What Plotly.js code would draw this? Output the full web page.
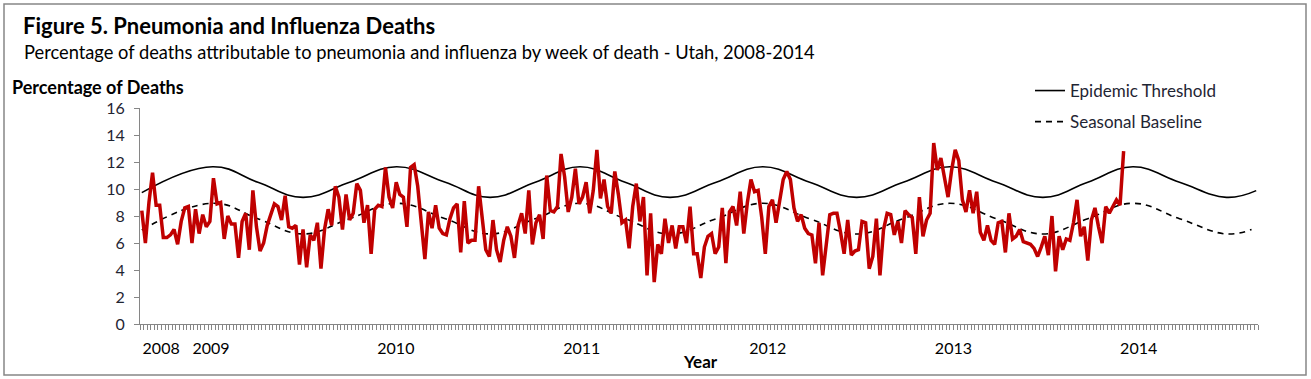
<!DOCTYPE html>
<html><head><meta charset="utf-8">
<script src="https://cdn.plot.ly/plotly-3.0.1.min.js"></script>
<style>html,body{margin:0;padding:0;background:#fff}#chart{width:1311px;height:379px}</style>
</head><body><div id="chart"></div>
<script>
// Weekly percentage of deaths due to pneumonia & influenza (week index from start of series)
const pniPercent = [
  8.4, 6.0, 9.0, 11.2, 8.8, 8.8, 6.4, 6.4, 6.6, 7.0,
  5.9, 7.6, 8.6, 8.7, 6.0, 8.5, 6.7, 8.1, 7.2, 7.6,
  10.8, 8.9, 9.0, 6.3, 8.0, 7.4, 7.4, 4.9, 7.6, 8.2,
  5.5, 9.9, 7.2, 5.4, 6.0, 7.3, 8.1, 8.9, 8.7, 7.7,
  9.5, 7.2, 7.1, 7.3, 4.4, 7.0, 4.2, 6.6, 6.2, 7.5,
  4.1, 7.0, 8.5, 7.3, 10.2, 9.4, 7.0, 9.6, 7.7, 8.2,
  10.4, 9.9, 7.5, 8.8, 5.2, 8.5, 8.8, 8.7, 11.6, 9.4,
  8.6, 10.5, 9.6, 9.4, 7.2, 11.6, 11.8, 10.2, 7.5, 4.8,
  8.3, 7.1, 8.8, 7.1, 6.7, 6.6, 7.8, 8.6, 8.9, 5.3,
  9.1, 6.0, 6.2, 6.2, 10.2, 7.9, 5.5, 5.0, 7.7, 5.5,
  4.6, 6.2, 7.2, 6.5, 4.9, 7.3, 8.2, 6.7, 9.9, 5.9,
  7.5, 8.1, 6.3, 11.0, 8.4, 8.3, 8.7, 12.6, 10.9, 8.3,
  9.4, 11.5, 8.9, 9.4, 10.5, 8.2, 9.9, 12.9, 9.3, 10.7,
  8.7, 8.2, 11.3, 9.6, 7.5, 7.7, 5.6, 8.7, 10.4, 7.6,
  9.4, 3.6, 8.2, 3.1, 5.9, 5.2, 7.8, 6.0, 7.3, 5.6,
  7.2, 7.2, 6.0, 8.7, 5.2, 5.2, 3.4, 5.7, 6.5, 6.7,
  5.2, 5.7, 8.6, 4.5, 8.3, 8.7, 7.3, 9.8, 6.7, 9.0,
  10.7, 9.8, 9.9, 7.9, 5.2, 8.7, 9.2, 7.5, 9.2, 10.7,
  11.3, 10.7, 8.6, 7.6, 8.1, 7.1, 6.7, 6.6, 4.5, 7.5,
  3.6, 6.0, 8.1, 8.2, 8.2, 6.8, 5.2, 7.7, 5.1, 5.4,
  5.5, 7.6, 7.5, 4.1, 5.0, 7.8, 3.6, 7.0, 8.2, 8.1,
  6.6, 7.6, 6.0, 8.4, 8.1, 7.9, 5.2, 9.4, 6.5, 7.7,
  8.2, 13.4, 11.4, 12.3, 10.9, 9.4, 11.4, 12.9, 12.1, 9.2,
  8.3, 9.9, 8.2, 9.8, 6.8, 6.2, 7.3, 6.2, 5.9, 7.5,
  7.6, 5.3, 8.2, 6.3, 6.5, 7.0, 6.1, 6.0, 5.9, 5.6,
  5.0, 5.7, 6.5, 5.1, 8.0, 3.9, 6.5, 5.5, 6.3, 6.2,
  7.5, 9.2, 6.5, 7.2, 4.7, 7.7, 8.6, 7.2, 6.0, 8.7,
  8.2, 8.7, 9.2, 8.8, 12.8
];
// Epidemic threshold, read at its peaks, troughs and midpoints (week index)
const thresholdWeeks = [0, 19.8, 32.4, 45, 58, 71.1, 84.7, 97.2, 109.8, 122.3, 134.9, 147.4, 160.3, 173.3, 186.4, 199.5, 212.5, 225.5, 238.5, 251.5, 264, 276.6, 289.6, 302.7, 311];
const thresholdValues = [9.73, 11.65, 10.5, 9.38, 10.5, 11.65, 10.5, 9.38, 10.5, 11.65, 10.5, 9.38, 10.5, 11.65, 10.5, 9.38, 10.5, 11.65, 10.5, 9.38, 10.5, 11.65, 10.5, 9.38, 9.88];
// Seasonal baseline, read at the same phases
const baselineWeeks = [0, 19.8, 32.4, 45, 58, 71.1, 84.7, 97.2, 109.8, 122.3, 134.9, 147.4, 160.3, 173.3, 186.4, 199.5, 212.5, 225.5, 238.5, 251.5, 264, 276.6, 289.6, 302.7, 309.7];
const baselineValues = [6.96, 8.94, 7.8, 6.67, 7.8, 8.94, 7.8, 6.67, 7.8, 8.94, 7.8, 6.67, 7.8, 8.94, 7.8, 6.67, 7.8, 8.94, 7.8, 6.67, 7.8, 8.94, 7.8, 6.67, 7.0];
// Year labels on the week axis
const yearLabels = ['2008', '2009', '2010', '2011', '2012', '2013', '2014'];
const yearLabelWeeks = [5.4, 19.3, 70.9, 122.8, 174.7, 226.5, 278.2];
const totalWeeks = 312;

const weeks = pniPercent.map((_, i) => i);
const FONT = 'Lato, "Open Sans", sans-serif';
const GRAY = '#868686';

// pixel helpers for paper coordinates (plot area 140..1258 x, 108..324 y)
const L = 140, R = 1258, T = 108, B = 324;
const px = x => (x - L) / (R - L);
const py = y => (B - y) / (B - T);

const traces = [
  {x: thresholdWeeks, y: thresholdValues, type: 'scatter', mode: 'lines', name: 'Epidemic Threshold',
   line: {color: '#000', width: 1.6, shape: 'spline', smoothing: 1.2}, legendgroup: 'a', hoverinfo: 'skip'},
  {x: baselineWeeks, y: baselineValues, type: 'scatter', mode: 'lines', name: 'Seasonal Baseline',
   line: {color: '#000', width: 1.6, dash: '6px,5px', shape: 'spline', smoothing: 1.2}, legendgroup: 'b', hoverinfo: 'skip'},
  {x: weeks, y: pniPercent, type: 'scatter', mode: 'lines', name: 'P&I Deaths', showlegend: false,
   line: {color: '#C00000', width: 3.5}}
];

const layout = {
  width: 1311, height: 379,
  margin: {l: L, r: 1311 - R, t: T, b: 379 - B, pad: 0},
  paper_bgcolor: '#fff', plot_bgcolor: '#fff',
  font: {family: FONT, size: 15, color: '#1f2533'},
  title: {text: '<b>Figure 5. Pneumonia and Influenza Deaths</b>', font: {family: FONT, size: 22, color: '#000'},
          x: 23 / 1311, xref: 'container', xanchor: 'left', y: 1 - 26 / 379, yref: 'container', yanchor: 'middle'},
  showlegend: true,
  legend: {x: px(1030), y: py(73), xanchor: 'left', yanchor: 'top', bgcolor: 'rgba(0,0,0,0)',
           font: {family: FONT, size: 17, color: '#1f2533'}, tracegroupgap: 6, traceorder: 'grouped'},
  xaxis: {range: [-0.5, totalWeeks - 0.5], showgrid: false, zeroline: false, showline: true, linecolor: GRAY, linewidth: 1,
          tickmode: 'array', tickvals: yearLabelWeeks, ticktext: yearLabels, ticks: '', ticklabelstandoff: 10,
          tickfont: {family: FONT, size: 16, color: '#000'},
          minor: {tickmode: 'linear', tick0: -0.5, dtick: 1, ticks: 'outside', ticklen: 5, tickwidth: 1, tickcolor: GRAY, showgrid: false}},
  yaxis: {range: [0, 16], dtick: 2, showgrid: false, zeroline: false, showline: true, linecolor: GRAY, linewidth: 1,
          ticks: 'outside', ticklen: 5, tickcolor: GRAY, tickfont: {family: FONT, size: 16, color: '#1f2533'}, ticklabelstandoff: 6},
  annotations: [
    {text: 'Percentage of deaths attributable to pneumonia and influenza by week of death - Utah, 2008-2014',
     xref: 'paper', yref: 'paper', x: px(22), y: py(52), xanchor: 'left', yanchor: 'middle', showarrow: false,
     font: {family: FONT, size: 18.3, color: '#000'}},
    {text: '<b>Percentage of Deaths</b>', xref: 'paper', yref: 'paper', x: px(10), y: py(87), xanchor: 'left', yanchor: 'middle',
     showarrow: false, font: {family: FONT, size: 18, color: '#000'}},
    {text: '<b>Year</b>', xref: 'paper', yref: 'paper', x: px(700), y: py(361), xanchor: 'center', yanchor: 'middle',
     showarrow: false, font: {family: FONT, size: 17, color: '#000'}}
  ],
  shapes: [
    {type: 'rect', xref: 'paper', yref: 'paper', x0: px(4), x1: px(1306), y0: py(375), y1: py(4),
     line: {color: GRAY, width: 1.5}, fillcolor: 'rgba(0,0,0,0)', layer: 'below'}
  ]
};

Plotly.newPlot('chart', traces, layout, {displayModeBar: false, staticPlot: true});
</script>
</body></html>
